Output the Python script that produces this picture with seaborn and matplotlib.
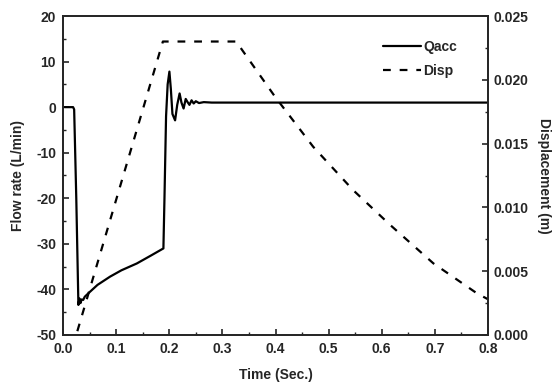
import numpy as np
import pandas as pd
import matplotlib
matplotlib.use("Agg")
import matplotlib.pyplot as plt
from matplotlib.ticker import MultipleLocator
import seaborn as sns

# ---- data ----
t_qacc = [0.003, 0.019, 0.021, 0.025, 0.029, 0.031, 0.033, 0.035, 0.038, 0.041,
          0.050, 0.065, 0.0885, 0.110, 0.139, 0.165, 0.189, 0.191, 0.194, 0.197,
          0.2003, 0.203, 0.206, 0.211, 0.215, 0.2195, 0.223, 0.227, 0.231, 0.234,
          0.238, 0.242, 0.246, 0.250, 0.256, 0.265, 0.28, 0.32, 0.40, 0.60, 0.80]
qacc = [0.0, 0.0, -0.5, -20.0, -43.4, -42.0, -43.0, -42.2, -42.3, -41.6,
        -40.6, -39.0, -37.2, -35.8, -34.3, -32.6, -31.0, -20.0, -2.0, 5.0,
        7.8, 4.0, -1.5, -2.9, 0.5, 3.0, 1.0, -0.3, 1.8, 1.2,
        0.5, 1.5, 0.8, 1.3, 0.9, 1.1, 1.0, 1.0, 1.0, 1.0, 1.0]

t_disp = [0.027, 0.188, 0.326, 0.399, 0.471, 0.546, 0.616, 0.697, 0.779, 0.80]
disp = [0.0003, 0.0230, 0.0230, 0.01868, 0.01475, 0.01136, 0.00862, 0.00562, 0.00327, 0.0028]

x_ticks = [0.0, 0.1, 0.2, 0.3, 0.4, 0.5, 0.6, 0.7, 0.8]
y_left_ticks = [-50, -40, -30, -20, -10, 0, 10, 20]
y_right_ticks = [0.000, 0.005, 0.010, 0.015, 0.020, 0.025]

df_q = pd.DataFrame({"t": t_qacc, "q": qacc})
df_d = pd.DataFrame({"t": t_disp, "d": disp})

sns.set_style("ticks")
plt.rcParams["font.family"] = ["Liberation Sans", "DejaVu Sans"]
plt.rcParams["font.weight"] = "bold"
plt.rcParams["xtick.direction"] = "in"
plt.rcParams["ytick.direction"] = "in"

fig = plt.figure(figsize=(5.58, 3.82), dpi=100)
ax = fig.add_axes([63 / 558, 47 / 382, 425 / 558, 319 / 382])
ax2 = ax.twinx()

sns.lineplot(data=df_q, x="t", y="q", ax=ax, color="black", linewidth=1.6,
             estimator=None, sort=False, label="Qacc", legend=False)
sns.lineplot(data=df_d, x="t", y="d", ax=ax2, color="black", linewidth=1.6,
             estimator=None, sort=False, label="Disp", legend=False,
             dashes=False)
ax2.lines[0].set_dashes((3.5, 4.0))

ax.set_xlim(0.0, 0.8)
ax.set_ylim(-50, 20)
ax2.set_ylim(0.0, 0.025)

ax.set_xticks(x_ticks)
ax.set_xticklabels([f"{v:.1f}" for v in x_ticks])
ax.set_yticks(y_left_ticks)
ax.set_yticklabels([f"{v:d}" for v in y_left_ticks])
ax2.set_yticks(y_right_ticks)
ax2.set_yticklabels([f"{v:.3f}" for v in y_right_ticks])
ax.xaxis.set_minor_locator(MultipleLocator(0.05))
ax.yaxis.set_minor_locator(MultipleLocator(5))
ax2.yaxis.set_minor_locator(MultipleLocator(0.0025))

for a in (ax, ax2):
    a.tick_params(which="major", direction="in", length=4, width=1.2,
                  labelsize=10)
    a.tick_params(which="minor", direction="in", length=2.5, width=1.0)
    for sp in a.spines.values():
        sp.set_linewidth(1.3)
        sp.set_visible(True)
ax.tick_params(axis="x", which="major", pad=5)
ax.tick_params(axis="y", which="major", pad=5)
ax2.tick_params(axis="y", which="major", pad=4)
ax2.tick_params(axis="y", which="both", right=True, left=False)
for lab in ax.get_xticklabels() + ax.get_yticklabels() + ax2.get_yticklabels():
    lab.set_fontweight("bold")

ax.set_xlabel("Time (Sec.)", fontsize=10, fontweight="bold", labelpad=9)
ax.set_ylabel("Flow rate (L/min)", fontsize=10, fontweight="bold", labelpad=8)
ax2.set_ylabel("Displacement (m)", fontsize=10, fontweight="bold",
               rotation=270, labelpad=16)

h1 = ax.lines[0]
h2 = ax2.lines[0]
leg = ax.legend([h1, h2], ["Qacc", "Disp"], loc="upper right",
                bbox_to_anchor=(0.9394, 0.9425), frameon=False, fontsize=10,
                handlelength=2.7, handletextpad=0.15, labelspacing=0.75,
                borderaxespad=0)
for txt in leg.get_texts():
    txt.set_fontweight("bold")

fig.savefig("out.png", dpi=100)
